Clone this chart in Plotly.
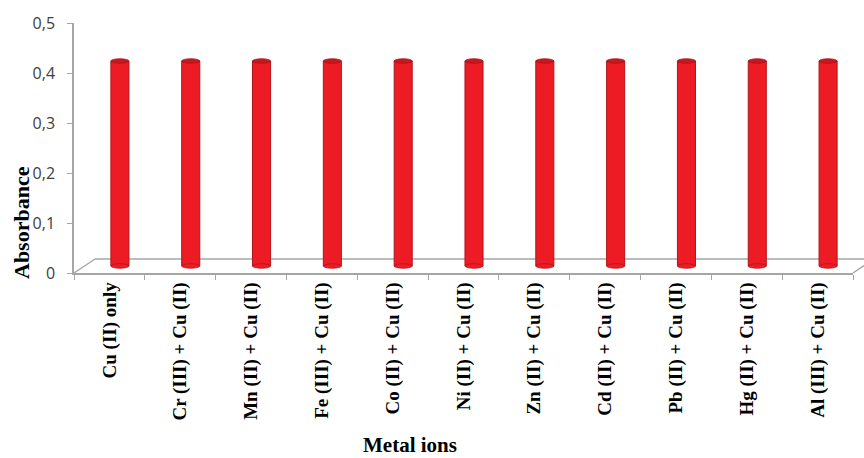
import plotly.graph_objects as go

# Absorbance of the Cu(II) probe alone and in the presence of other metal ions
categories = [
    "Cu (II) only", "Cr (III) + Cu (II)", "Mn (II) + Cu (II)", "Fe (III) + Cu (II)",
    "Co (II) + Cu (II)", "Ni (II) + Cu (II)", "Zn (II) + Cu (II)", "Cd (II) + Cu (II)",
    "Pb (II) + Cu (II)", "Hg (II) + Cu (II)", "Al (III) + Cu (II)",
]
absorbance = [0.41, 0.41, 0.41, 0.41, 0.41, 0.41, 0.41, 0.41, 0.41, 0.41, 0.41]
y_tickvals = [0, 0.1, 0.2, 0.3, 0.4, 0.5]

W, H = 864, 458
L, R, T, B = 74, 11, 23, 185
plot_w = W - L - R
plot_h = H - T - B
n = len(categories)
cat_px = plot_w / n

# depth of the 3-D floor (px); the cylinders stand half way back
depth_dx, depth_dy = 21, 14
shift_cat = (depth_dx / 2) / cat_px
shift_val = (depth_dy / 2) / plot_h * 0.5

bar_w = 0.255
serif = "Liberation Serif, Times New Roman, serif"
sans = "Open Sans, Liberation Sans, sans-serif"
floor_col = "#A6A6A6"

fig = go.Figure()

# invisible trace that carries the front (labelled) axes
fig.add_trace(go.Scatter(
    x=categories, y=absorbance, mode="markers", marker=dict(opacity=0),
    xaxis="x", yaxis="y", showlegend=False, hoverinfo="skip",
))

# cylinders, drawn on a y axis lifted by the half depth
fig.add_trace(go.Bar(
    x=categories, y=absorbance, width=bar_w, offset=-bar_w / 2 + shift_cat,
    marker=dict(color="#ED1C24", line=dict(color="#B3141B", width=1)),
    xaxis="x", yaxis="y2", showlegend=False, hoverinfo="x+y",
))

shapes = []
cap_h = 0.0045
for i, v in enumerate(absorbance):
    cx = i + shift_cat
    # rounded bottom
    shapes.append(dict(type="circle", xref="x", yref="y2",
                       x0=cx - bar_w / 2, x1=cx + bar_w / 2,
                       y0=-cap_h, y1=cap_h,
                       fillcolor="#ED1C24", line=dict(color="#B3141B", width=0.8),
                       layer="above"))
    # top cap
    shapes.append(dict(type="circle", xref="x", yref="y2",
                       x0=cx - bar_w / 2, x1=cx + bar_w / 2,
                       y0=v - cap_h, y1=v + cap_h,
                       fillcolor="#C8171E", line=dict(color="#A81219", width=0.8),
                       layer="above"))


def to_paper(xp, yp):
    return (xp - L) / plot_w, (T + plot_h - yp) / plot_h


# 3-D floor outline
x0f, y0f = L, T + plot_h
x1f = L + plot_w
for (a, b) in [((x0f, y0f), (x0f + depth_dx, y0f - depth_dy)),
               ((x0f + depth_dx, y0f - depth_dy), (x1f + depth_dx, y0f - depth_dy)),
               ((x1f, y0f), (x1f + depth_dx, y0f - depth_dy))]:
    ax, ay = to_paper(*a)
    bx, by = to_paper(*b)
    shapes.append(dict(type="line", xref="paper", yref="paper",
                       x0=ax, y0=ay, x1=bx, y1=by,
                       line=dict(color=floor_col, width=1.5), layer="below"))

# axis titles
ytx, yty = to_paper(21, 222)
xtx, xty = to_paper(410, 445)
annotations = [
    dict(text="<b>Absorbance</b>", x=ytx, y=yty, xref="paper", yref="paper",
         textangle=-90, showarrow=False, xanchor="center", yanchor="middle",
         font=dict(family=serif, size=22, color="#000000")),
    dict(text="<b>Metal ions</b>", x=xtx, y=xty, xref="paper", yref="paper",
         showarrow=False, xanchor="center", yanchor="middle",
         font=dict(family=serif, size=21, color="#000000")),
]

fig.update_layout(
    width=W, height=H,
    margin=dict(l=L, r=R, t=T, b=B),
    paper_bgcolor="white", plot_bgcolor="white",
    separators=",.",
    barmode="overlay",
    shapes=shapes,
    annotations=annotations,
    xaxis=dict(
        type="category", categoryorder="array", categoryarray=categories,
        tickvals=categories, ticktext=["<b>%s</b>" % c for c in categories],
        range=[-0.5, n - 0.5], tickangle=-90,
        tickfont=dict(family=serif, size=19, color="#000000"),
        showline=True, linecolor=floor_col, linewidth=1.5,
        ticks="outside", tickson="boundaries", ticklen=5, tickcolor=floor_col,
        showgrid=False, zeroline=False, fixedrange=True,
    ),
    yaxis=dict(
        range=[0, 0.5], tickvals=y_tickvals,
        tickfont=dict(family=sans, size=16, color="#404040"),
        showline=True, linecolor=floor_col, linewidth=1.5,
        ticks="outside", ticklen=5, tickcolor=floor_col, ticklabelstandoff=9,
        showgrid=False, zeroline=False, fixedrange=True,
    ),
    yaxis2=dict(overlaying="y", range=[-shift_val, 0.5 - shift_val],
                visible=False, fixedrange=True),
)

fig.write_html("out.html")
